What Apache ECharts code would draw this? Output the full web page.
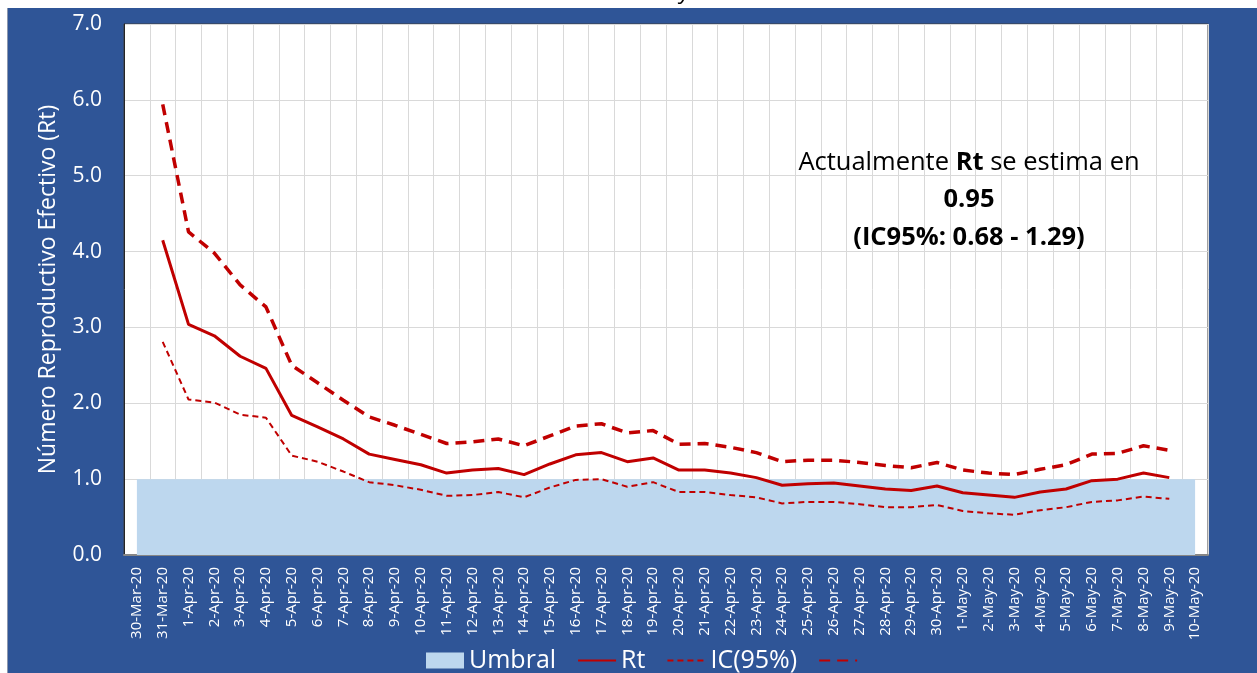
<!DOCTYPE html>
<html>
<head>
<meta charset="utf-8">
<script src="https://cdn.jsdelivr.net/npm/echarts@6/dist/echarts.min.js"></script>
<style>
  html, body { margin: 0; padding: 0; background: #ffffff; }
  #panel { position: absolute; left: 7px; top: 8px; right: 0; bottom: 0; background: #2F5597; border-left: 1px solid #8c97ad; }
  #chart { position: absolute; left: 0; top: 0; width: 1257px; height: 673px; }
</style>
</head>
<body>
<div id="panel"></div>
<div id="chart"></div>
<script>
const dates = ['30-Mar-20','31-Mar-20','1-Apr-20','2-Apr-20','3-Apr-20','4-Apr-20','5-Apr-20','6-Apr-20','7-Apr-20','8-Apr-20','9-Apr-20','10-Apr-20','11-Apr-20','12-Apr-20','13-Apr-20','14-Apr-20','15-Apr-20','16-Apr-20','17-Apr-20','18-Apr-20','19-Apr-20','20-Apr-20','21-Apr-20','22-Apr-20','23-Apr-20','24-Apr-20','25-Apr-20','26-Apr-20','27-Apr-20','28-Apr-20','29-Apr-20','30-Apr-20','1-May-20','2-May-20','3-May-20','4-May-20','5-May-20','6-May-20','7-May-20','8-May-20','9-May-20','10-May-20'];
const umbral = [1,1,1,1,1,1,1,1,1,1,1,1,1,1,1,1,1,1,1,1,1,1,1,1,1,1,1,1,1,1,1,1,1,1,1,1,1,1,1,1,1,1];
const rt = [null,4.15,3.04,2.89,2.62,2.46,1.84,1.69,1.53,1.33,1.26,1.19,1.08,1.12,1.14,1.06,1.20,1.32,1.35,1.23,1.28,1.12,1.12,1.08,1.02,0.92,0.94,0.95,0.91,0.87,0.85,0.91,0.82,0.79,0.76,0.83,0.87,0.98,1.00,1.08,1.02,null];
const icUpper = [null,5.94,4.26,3.98,3.56,3.27,2.50,2.27,2.04,1.82,1.71,1.59,1.47,1.49,1.53,1.44,1.57,1.70,1.73,1.61,1.64,1.46,1.47,1.42,1.35,1.23,1.25,1.25,1.22,1.18,1.15,1.22,1.12,1.08,1.06,1.13,1.19,1.33,1.34,1.44,1.38,null];
const icLower = [null,2.81,2.05,2.01,1.85,1.81,1.31,1.23,1.10,0.96,0.92,0.86,0.78,0.79,0.83,0.76,0.89,0.99,1.00,0.90,0.96,0.83,0.83,0.79,0.76,0.68,0.70,0.70,0.67,0.63,0.63,0.66,0.58,0.55,0.53,0.59,0.63,0.70,0.72,0.77,0.74,null];
const yTicks = ['0.0','1.0','2.0','3.0','4.0','5.0','6.0','7.0'];

const FONT = '"Open Sans", "Noto Sans", sans-serif';
const RED = '#C00000';

const chart = echarts.init(document.getElementById('chart'), null, { renderer: 'canvas' });
chart.setOption({
  backgroundColor: 'transparent',
  animation: false,
  grid: {
    left: 124, right: 49, top: 24, bottom: 118,
    show: true, backgroundColor: '#ffffff', borderColor: '#404040', borderWidth: 1
  },
  legend: {
    left: 421, top: 643,
    itemWidth: 38, itemHeight: 16, itemGap: 21,
    textStyle: { color: '#ffffff', fontSize: 25, fontFamily: FONT },
    data: [
      { name: 'Umbral', icon: 'rect' },
      { name: 'Rt', itemStyle: { opacity: 0 } },
      { name: 'IC(95%)', itemStyle: { opacity: 0 } },
      { name: ' ', itemStyle: { opacity: 0 } }
    ]
  },
  xAxis: {
    type: 'category',
    data: dates,
    boundaryGap: true,
    axisLine: { show: true, lineStyle: { color: '#868686', width: 2 } },
    axisTick: { show: false },
    splitLine: { show: true, interval: 0, lineStyle: { color: '#D9D9D9', width: 1 } },
    axisLabel: { interval: 0, rotate: 90, color: '#ffffff', fontSize: 15, fontFamily: FONT, margin: 12 }
  },
  yAxis: {
    type: 'value',
    min: 0, max: 7, interval: 1,
    name: 'Número Reproductivo Efectivo (Rt)',
    nameLocation: 'middle',
    nameGap: 64,
    nameTextStyle: { color: '#ffffff', fontSize: 23, fontFamily: FONT },
    axisLine: { show: true, lineStyle: { color: '#262626', width: 1 } },
    axisTick: { show: false },
    splitLine: { show: true, lineStyle: { color: '#D9D9D9', width: 1 } },
    axisLabel: {
      color: '#ffffff', fontSize: 21, fontFamily: FONT, margin: 22,
      formatter: function (v) { return yTicks[Math.round(v)]; }
    }
  },
  graphic: [
    { type: 'text', left: 680, top: -18, z: 100,
      style: { text: 'y', fill: '#000000', font: 'italic 22px ' + FONT } },
    { type: 'text', x: 969, y: 163, z: 100,
      style: {
        text: '{n|Actualmente }{b|Rt}{n| se estima en}',
        textAlign: 'center', textVerticalAlign: 'middle',
        rich: {
          n: { fontSize: 25.5, fontFamily: FONT, fill: '#000000', color: '#000000' },
          b: { fontSize: 25.5, fontFamily: FONT, fontWeight: 'bold', fill: '#000000', color: '#000000' }
        }
      } },
    { type: 'text', x: 969, y: 200, z: 100,
      style: { text: '0.95', textAlign: 'center', textVerticalAlign: 'middle', fill: '#000000', font: 'bold 25.5px ' + FONT } },
    { type: 'text', x: 969, y: 238, z: 100,
      style: { text: '(IC95%: 0.68 - 1.29)', textAlign: 'center', textVerticalAlign: 'middle', fill: '#000000', font: 'bold 25.5px ' + FONT } }
  ],
  series: [
    {
      name: 'Umbral', type: 'line', data: umbral,
      symbol: 'none', lineStyle: { width: 0, color: '#BDD7EE' },
      itemStyle: { color: '#BDD7EE' },
      areaStyle: { color: '#BDD7EE', opacity: 1 }, z: 1
    },
    {
      name: 'Rt', type: 'line', data: rt,
      symbol: 'none', lineStyle: { width: 3, color: RED, type: 'solid' },
      itemStyle: { color: RED }, z: 5
    },
    {
      name: 'IC(95%)', type: 'line', data: icLower,
      symbol: 'none', lineStyle: { width: 2, color: RED, type: [6, 4] },
      itemStyle: { color: RED }, z: 4
    },
    {
      name: ' ', type: 'line', data: icUpper,
      symbol: 'none', lineStyle: { width: 3.5, color: RED, type: [11, 7] },
      itemStyle: { color: RED }, z: 4
    }
  ]
});
</script>
</body>
</html>
